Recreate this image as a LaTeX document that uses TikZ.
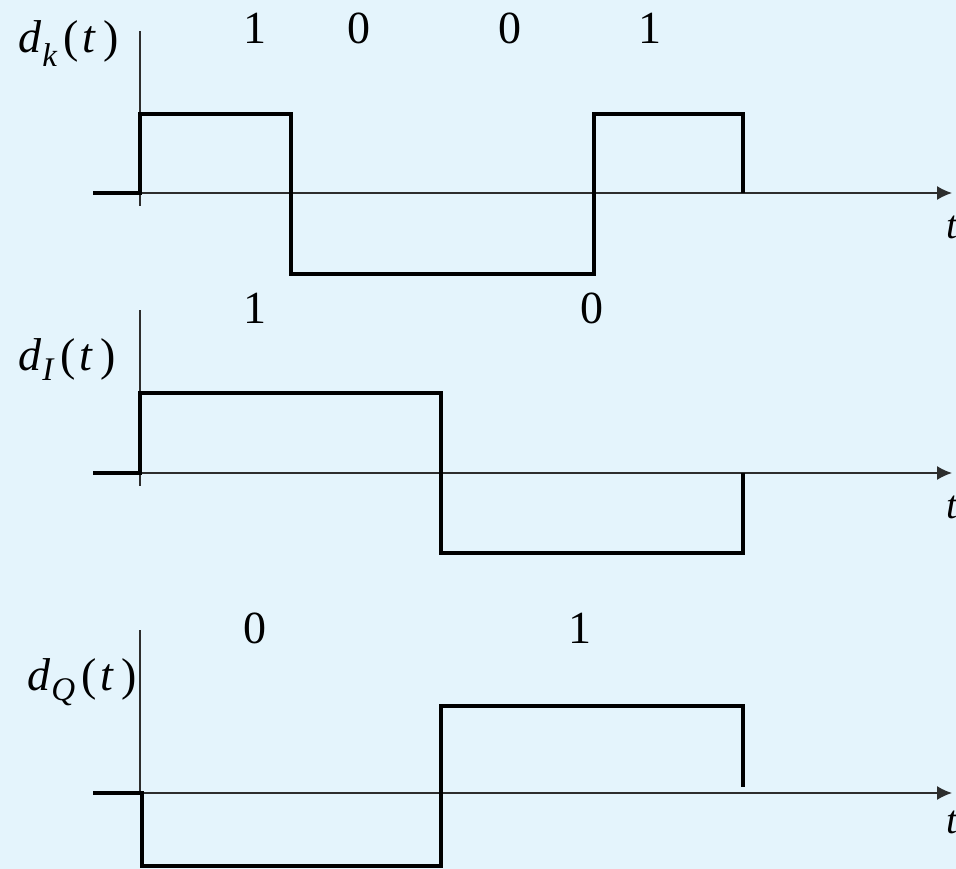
\documentclass[tikz,border=0pt]{standalone}
\usepackage{fontspec}
\setmainfont{Liberation Serif}
\usetikzlibrary{arrows.meta}
\definecolor{bgc}{RGB}{228,244,252}
\definecolor{axc}{RGB}{45,45,45}
\newcommand{\dlab}[2]{\fontsize{46}{50}\selectfont\textit{d}\kern1pt\raisebox{-#2pt}{\fontsize{33}{34}\selectfont\textit{#1}}\kern6pt(\kern4pt\textit{t}\kern7pt)}
\tikzset{
  axis/.style={draw=axc,line width=1.5pt},
  taxis/.style={axis,-{Latex[length=15pt,width=14pt]}},
  wave/.style={draw=black,line width=4.4pt,line join=miter,line cap=butt},
  bit/.style={inner sep=0pt,anchor=base,font=\fontsize{46}{50}\selectfont},
  siglab/.style={inner sep=0pt,anchor=base west},
  tlab/.style={inner sep=0pt,anchor=base west,font=\fontsize{40}{44}\selectfont\itshape}
}
\begin{document}
\begin{tikzpicture}[x=1pt,y=-1pt]
\fill[bgc] (0,0) rectangle (956,869);
\useasboundingbox (0,0) rectangle (956,869);
% panel 1
\draw[axis] (140,31) -- (140,206);
\draw[taxis] (140,193) -- (952,193);
\draw[wave] (93,193) -- (140,193) -- (140,114) -- (291,114) -- (291,274) -- (594,274) -- (594,114) -- (743,114) -- (743,193);
\node[siglab] (dk) at (18,53) {\dlab{k}{14}};
\node[tlab] (t1) at (946,239) {t};
\node[bit] (b11) at (255,44) {1};
\node[bit] (b12) at (359,44) {0};
\node[bit] (b13) at (510,44) {0};
\node[bit] (b14) at (650,44) {1};
% panel 2
\draw[axis] (140,310) -- (140,486);
\draw[taxis] (140,473) -- (952,473);
\draw[wave] (93,473) -- (140,473) -- (140,393) -- (441,393) -- (441,553) -- (743,553) -- (743,473);
\node[siglab] (dI) at (18,370) {\dlab{I}{10}};
\node[tlab] (t2) at (946,518) {t};
\node[bit] (b21) at (255,323) {1};
\node[bit] (b22) at (592,323) {0};
% panel 3
\draw[axis] (140,630) -- (140,793);
\draw[taxis] (140,793) -- (952,793);
\draw[wave] (93,793) -- (142,793) -- (142,866) -- (441,866) -- (441,706) -- (743,706) -- (743,787);
\node[siglab] (dQ) at (27,690) {\dlab{Q}{10}};
\node[tlab] (t3) at (946,833) {t};
\node[bit] (b31) at (255,643) {0};
\node[bit] (b32) at (580,643) {1};
\end{tikzpicture}
\end{document}
